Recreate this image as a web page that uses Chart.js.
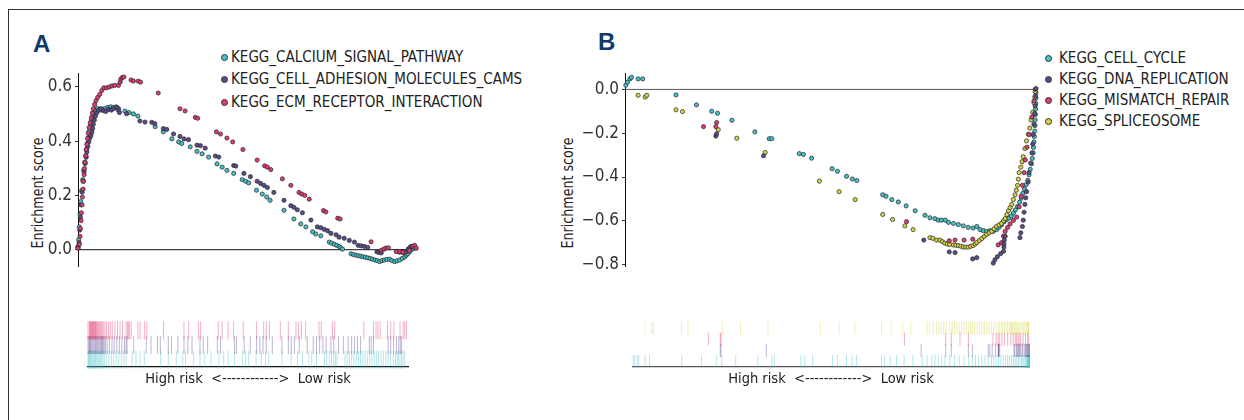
<!DOCTYPE html>
<html>
<head>
<meta charset="utf-8">
<script src="https://cdn.jsdelivr.net/npm/chart.js"></script>
<style>
  body { margin: 0; background: #fff; width: 1244px; height: 420px; position: relative; overflow: hidden;
         font-family: 'Liberation Sans Narrow', 'Arial Narrow', 'DejaVu Sans Condensed', sans-serif; color: #222; }
  .frame { position: absolute; left: 8px; top: 9px; width: 1240px; height: 415px; border-left: 1px solid #333; border-top: 1px solid #333; }
  canvas { position: absolute; }
  .panel { position: absolute; font-family: 'Liberation Sans', 'DejaVu Sans', sans-serif; font-weight: bold;
           font-size: 24px; line-height: 24px; color: #0f3a6c; }
  .ytitle { position: absolute; width: 140px; height: 20px; line-height: 20px; text-align: center; font-size: 16px;
            color: #222; transform: rotate(-90deg) scaleX(0.88); }
  .legend { position: absolute; font-size: 16.5px; color: #222; }
  .legend .row { white-space: nowrap; }
  .legend .dot { display: inline-block; width: 5px; height: 5px; border-radius: 50%; border: 0.8px solid #333; vertical-align: middle; }
  .legend .txt { display: inline-block; transform: scaleX(0.91); transform-origin: left center; }
</style>
</head>
<body>
<div class="frame"></div>
<div class="panel" style="left:33px;top:32px">A</div>
<div class="panel" style="left:598px;top:30px">B</div>
<div class="ytitle" style="left:-32.5px;top:183px">Enrichment score</div>
<div class="ytitle" style="left:497.5px;top:183px">Enrichment score</div>
<div class="legend" id="legA" style="left:220.7px;top:46.2px"></div>
<div class="legend" id="legB" style="left:1045px;top:46.8px"></div>

<canvas id="esA" width="430" height="220" style="left:0px;top:60px"></canvas>
<canvas id="rugA" width="340" height="75" style="left:78px;top:313px"></canvas>
<canvas id="esB" width="500" height="220" style="left:547px;top:60px"></canvas>
<canvas id="rugB" width="412" height="73" style="left:625px;top:315px"></canvas>

<script>
// ---- panel A : running enrichment score, [rank %, ES]
var calciumES = [[0.0,0.012],[0.2,0.037],[0.4,0.084],[0.6,0.13],[0.8,0.177],[1.1,0.218],[1.4,0.258],[1.7,0.293],[2.0,0.322],[2.3,0.346],[2.5,0.369],[2.8,0.392],[3.1,0.415],[3.4,0.439],[3.7,0.458],[4.0,0.477],[4.3,0.491],[4.7,0.505],[5.1,0.514],[5.7,0.52],[6.5,0.514],[7.3,0.517],[8.0,0.52],[8.8,0.524],[9.6,0.526],[10.4,0.524],[11.2,0.526],[11.9,0.52],[13.8,0.51],[15.0,0.505],[16.3,0.5],[17.6,0.492],[22.7,0.453],[25.1,0.434],[27.6,0.408],[29.6,0.397],[30.5,0.391],[33.0,0.379],[35.0,0.362],[36.5,0.353],[38.4,0.341],[40.9,0.316],[42.4,0.304],[43.8,0.292],[45.8,0.281],[48.3,0.258],[49.3,0.252],[50.2,0.246],[52.5,0.219],[54.2,0.205],[55.5,0.194],[56.5,0.182],[60.6,0.145],[63.5,0.113],[65.5,0.095],[67.0,0.084],[69.0,0.066],[69.9,0.058],[71.4,0.051],[73.9,0.028],[74.6,0.024],[75.4,0.02],[76.1,0.016],[76.8,0.012],[77.3,0.007],[77.8,0.002],[80.3,-0.015],[81.0,-0.018],[81.7,-0.02],[82.4,-0.022],[83.1,-0.024],[83.8,-0.026],[84.5,-0.028],[85.2,-0.03],[85.9,-0.032],[86.6,-0.035],[87.3,-0.038],[88.0,-0.04],[88.7,-0.044],[89.4,-0.04],[90.1,-0.038],[90.8,-0.036],[91.6,-0.035],[92.3,-0.04],[93.1,-0.044],[93.8,-0.041],[94.6,-0.038],[95.4,-0.032],[96.1,-0.027],[96.6,-0.02],[97.0,-0.015],[97.5,-0.008],[98.0,0],[98.5,0.004],[99.0,0.006]];
var adhesionES = [[0.0,0.008],[0.3,0.026],[0.5,0.072],[0.7,0.119],[0.9,0.165],[1.2,0.212],[1.5,0.252],[1.8,0.287],[2.1,0.317],[2.4,0.34],[2.6,0.36],[2.9,0.38],[3.2,0.398],[3.5,0.412],[3.8,0.421],[4.1,0.433],[4.3,0.447],[4.5,0.462],[4.8,0.477],[5.1,0.491],[5.5,0.503],[6.0,0.514],[6.7,0.52],[7.5,0.512],[8.2,0.509],[9.0,0.517],[9.8,0.514],[10.6,0.52],[11.4,0.524],[11.9,0.514],[12.2,0.505],[14.3,0.501],[18.2,0.474],[19.7,0.47],[21.7,0.469],[22.6,0.464],[25.1,0.446],[26.1,0.443],[28.1,0.426],[30.0,0.417],[31.2,0.408],[32.5,0.405],[35.0,0.385],[36.0,0.383],[37.4,0.374],[40.4,0.345],[41.4,0.341],[45.8,0.31],[46.4,0.308],[48.8,0.281],[50.7,0.269],[52.7,0.252],[53.7,0.244],[54.7,0.237],[55.7,0.229],[57.6,0.211],[60.6,0.182],[62.6,0.162],[63.5,0.156],[64.5,0.147],[66.0,0.136],[68.5,0.109],[70.4,0.084],[71.4,0.081],[72.4,0.075],[73.4,0.07],[74.4,0.06],[75.9,0.055],[76.8,0.046],[78.3,0.042],[79.8,0.034],[81.3,0.028],[82.4,0.016],[83.3,0.014],[84.2,0.012],[85.2,0.009],[87.9,-0.008],[88.5,-0.01],[89.2,-0.012],[93.8,-0.006],[94.6,-0.009],[95.5,-0.01],[96.4,-0.008],[97.1,0.002],[97.6,0.008],[98.0,0.012]];
var ecmES = [[0.0,0.005],[0.4,0.02],[0.6,0.049],[0.7,0.078],[0.9,0.107],[1.0,0.136],[1.2,0.165],[1.3,0.194],[1.5,0.223],[1.6,0.252],[1.8,0.276],[1.9,0.299],[2.1,0.322],[2.3,0.346],[2.4,0.369],[2.6,0.388],[2.8,0.409],[3.0,0.43],[3.3,0.45],[3.6,0.468],[3.9,0.485],[4.2,0.503],[4.5,0.519],[4.9,0.535],[5.3,0.549],[5.8,0.561],[6.4,0.572],[7.0,0.586],[7.6,0.596],[8.4,0.596],[9.2,0.599],[10.0,0.603],[10.8,0.605],[11.9,0.605],[12.4,0.617],[12.6,0.628],[13.0,0.634],[13.5,0.636],[15.6,0.625],[16.3,0.621],[17.7,0.621],[18.4,0.617],[23.6,0.577],[30.0,0.519],[31.5,0.511],[34.5,0.487],[35.2,0.484],[40.7,0.434],[41.9,0.426],[43.8,0.411],[45.5,0.397],[48.5,0.369],[52.7,0.33],[54.9,0.309],[55.7,0.304],[56.7,0.295],[60.1,0.261],[62.6,0.237],[65.0,0.211],[65.8,0.205],[66.7,0.2],[68.0,0.186],[72.2,0.144],[72.9,0.139],[76.4,0.116],[77.1,0.113],[86.2,0.029],[89.2,-0.002],[90.0,0.002],[90.6,0.006],[91.3,0.007],[93.6,-0.007],[94.6,-0.007],[95.6,-0.009],[97.5,-0.003],[98.5,0.012],[99.0,0.016],[99.5,0.006]];

// ---- panel B
var cellCycleES = [[0.2,0.019],[0.6,0.033],[1.2,0.048],[1.6,0.055],[3.2,0.048],[4.3,0.048],[12.4,-0.025],[17.4,-0.071],[21.1,-0.1],[22.5,-0.109],[26.0,-0.141],[31.6,-0.194],[35.1,-0.225],[35.7,-0.225],[42.4,-0.293],[43.4,-0.297],[45.4,-0.314],[50.4,-0.362],[51.7,-0.374],[53.9,-0.397],[55.3,-0.409],[56.4,-0.416],[62.7,-0.481],[63.5,-0.488],[64.9,-0.503],[66.5,-0.514],[68.4,-0.532],[70.6,-0.554],[73.0,-0.575],[74.2,-0.586],[75.4,-0.59],[76.2,-0.597],[77.0,-0.597],[77.9,-0.597],[78.7,-0.607],[79.9,-0.612],[81.1,-0.617],[82.3,-0.623],[83.5,-0.63],[84.7,-0.633],[85.6,-0.626],[86.4,-0.64],[87.2,-0.645],[88.0,-0.648],[88.8,-0.645],[89.6,-0.648],[90.4,-0.64],[91.0,-0.63],[91.6,-0.618],[92.2,-0.605],[92.8,-0.595],[93.4,-0.588],[94.0,-0.578],[94.5,-0.565],[95.0,-0.55],[95.5,-0.535],[96.0,-0.515],[96.4,-0.496],[96.8,-0.475],[97.2,-0.455],[97.6,-0.435],[98.0,-0.415],[98.3,-0.39],[98.6,-0.365],[98.9,-0.34],[99.1,-0.315],[99.3,-0.29],[99.4,-0.265],[99.5,-0.24],[99.6,-0.215],[99.7,-0.19],[99.75,-0.165],[99.8,-0.14],[99.85,-0.115],[99.9,-0.09],[99.95,-0.065],[100,-0.04],[100,-0.015]];
var dnaReplicationES = [[22.1,-0.213],[22.3,-0.203],[33.7,-0.303],[72.7,-0.688],[78.9,-0.742],[80.3,-0.745],[84.6,-0.774],[85.6,-0.768],[89.6,-0.793],[90.0,-0.778],[90.6,-0.764],[91.4,-0.75],[92.1,-0.739],[92.2,-0.72],[92.2,-0.706],[92.3,-0.688],[92.5,-0.67],[96.1,-0.677],[96.3,-0.655],[96.7,-0.626],[96.9,-0.597],[97.1,-0.561],[97.3,-0.525],[97.5,-0.495],[97.7,-0.467],[98.1,-0.423],[98.3,-0.38],[98.7,-0.336],[99.0,-0.29],[99.2,-0.25],[99.3,-0.206],[99.5,-0.16],[99.7,-0.11],[99.8,-0.075],[99.9,-0.03],[100,0.004]];
var mismatchES = [[19.1,-0.17],[22.1,-0.17],[22.3,-0.151],[68.5,-0.604],[78.9,-0.691],[80.3,-0.688],[82.5,-0.688],[84.6,-0.684],[90.8,-0.71],[91.6,-0.7],[92.1,-0.67],[92.5,-0.648],[93.1,-0.63],[93.7,-0.614],[94.5,-0.598],[95.3,-0.583],[95.9,-0.536],[96.4,-0.488],[96.7,-0.438],[97.1,-0.38],[97.4,-0.322],[97.8,-0.264],[98.4,-0.206],[99.0,-0.126],[99.5,-0.053],[99.8,0.0]];
var spliceosomeES = [[3.2,-0.027],[4.9,-0.035],[5.3,-0.027],[12.4,-0.093],[14.0,-0.101],[22.7,-0.184],[27.2,-0.223],[34.1,-0.288],[47.3,-0.419],[52.1,-0.467],[56.0,-0.503],[62.7,-0.571],[65.1,-0.594],[68.1,-0.623],[70.1,-0.64],[74.2,-0.677],[74.9,-0.68],[75.8,-0.688],[76.6,-0.688],[77.2,-0.695],[77.8,-0.702],[78.4,-0.706],[79.0,-0.708],[79.9,-0.71],[80.5,-0.712],[81.1,-0.713],[81.7,-0.716],[82.3,-0.72],[82.9,-0.72],[83.5,-0.72],[84.1,-0.717],[84.7,-0.713],[85.2,-0.706],[85.6,-0.699],[86.2,-0.69],[86.8,-0.681],[87.4,-0.672],[88.0,-0.662],[88.6,-0.655],[89.2,-0.648],[89.8,-0.637],[90.4,-0.626],[91.0,-0.619],[91.6,-0.612],[92.1,-0.6],[92.5,-0.59],[92.9,-0.572],[93.3,-0.554],[93.7,-0.54],[94.1,-0.525],[94.5,-0.503],[94.9,-0.481],[95.2,-0.46],[95.5,-0.438],[95.7,-0.41],[95.9,-0.38],[96.3,-0.355],[96.6,-0.33],[96.9,-0.307],[97.3,-0.27],[97.7,-0.235],[98.1,-0.205],[98.5,-0.177],[98.8,-0.14],[99.2,-0.104],[99.5,-0.061],[99.7,-0.035],[99.8,-0.01]];

var namesA = ['KEGG_CALCIUM_SIGNAL_PATHWAY', 'KEGG_CELL_ADHESION_MOLECULES_CAMS', 'KEGG_ECM_RECEPTOR_INTERACTION'];
var namesB = ['KEGG_CELL_CYCLE', 'KEGG_DNA_REPLICATION', 'KEGG_MISMATCH_REPAIR', 'KEGG_SPLICEOSOME'];
var yTicksA = [0, 0.2, 0.4, 0.6];
var yTicksB = [0, -0.2, -0.4, -0.6, -0.8];
var rugLabel = 'High risk  <------------>  Low risk';

var CYAN = '#45c1c9', PURPLE = '#5a4c8e', PINK = '#e23a72', YELLOW = '#d5d443';
var FONT = "'Liberation Sans Narrow', 'Arial Narrow', 'DejaVu Sans Condensed', sans-serif";

var setsA = [
  {name: namesA[0], data: calciumES, color: CYAN, order: 3},
  {name: namesA[1], data: adhesionES, color: PURPLE, order: 2},
  {name: namesA[2], data: ecmES, color: PINK, order: 1}
];
var setsB = [
  {name: namesB[0], data: cellCycleES, color: CYAN, order: 4},
  {name: namesB[1], data: dnaReplicationES, color: PURPLE, order: 1},
  {name: namesB[2], data: mismatchES, color: PINK, order: 2},
  {name: namesB[3], data: spliceosomeES, color: YELLOW, order: 3}
];

function toXY(arr) {
  return arr.map(function (p) { return {x: p[0], y: p[1]}; });
}

function legend(id, sets, gap, rowH) {
  var el = document.getElementById(id);
  sets.forEach(function (s) {
    var row = document.createElement('div');
    row.className = 'row';
    row.style.height = rowH + 'px';
    row.style.lineHeight = rowH + 'px';
    row.innerHTML = '<span class="dot" style="background:' + s.color + ';margin-right:' + gap + 'px"></span>' +
                    '<span class="txt">' + s.name + '</span>';
    el.appendChild(row);
  });
}

function esChart(id, sets, yMin, yMax, ticks, zeroColor, pad) {
  var ds = sets.map(function (s) {
    return {
      label: s.name, data: toXY(s.data), order: s.order, clip: false,
      backgroundColor: s.color, borderColor: 'rgba(40,40,40,0.9)', borderWidth: 0.8, pointRadius: 2.1
    };
  });
  ds.push({type: 'line', data: [{x: 0, y: 0}, {x: 100, y: 0}], borderColor: zeroColor, borderWidth: 1,
           pointRadius: 0, order: 10});
  new Chart(document.getElementById(id), {
    type: 'scatter',
    data: {datasets: ds},
    options: {
      responsive: false, animation: false, events: [],
      layout: {padding: pad},
      plugins: {legend: {display: false}, tooltip: {enabled: false}},
      scales: {
        x: {type: 'linear', min: 0, max: 100, display: false},
        y: {
          min: yMin, max: yMax,
          afterBuildTicks: function (sc) { sc.ticks = ticks.map(function (v) { return {value: v}; }); },
          afterFit: function (sc) { sc.width = 78; },
          grid: {drawOnChartArea: false, drawTicks: true, tickLength: 3, color: '#333'},
          border: {color: '#111', width: 1},
          ticks: {
            font: {family: FONT, size: 17}, color: '#333', padding: 3,
            callback: function (v) { return Number(v).toFixed(1).replace('-', '\u2212'); }
          }
        }
      }
    }
  });
}

function rugChart(id, sets, half, axisColor) {
  var n = sets.length;
  var ds = sets.map(function (s, i) {
    return {
      data: s.data.map(function (p) { return {x: p[0], y: n - 0.5 - i}; }),
      pointStyle: 'line', rotation: 90, pointRadius: half, clip: false,
      borderColor: s.color + '66', borderWidth: 1
    };
  });
  new Chart(document.getElementById(id), {
    type: 'scatter',
    data: {datasets: ds},
    options: {
      responsive: false, animation: false, events: [],
      layout: {padding: 0},
      plugins: {legend: {display: false}, tooltip: {enabled: false}},
      scales: {
        x: {
          type: 'linear', min: 0, max: 100,
          grid: {display: false}, ticks: {display: false},
          border: {display: true, color: axisColor, width: 1.3},
          title: {display: true, text: rugLabel, color: '#222', font: {family: FONT, size: 14.5}, padding: 0},
          afterFit: function (sc) { sc.height = 21; }
        },
        y: {min: 0, max: n, display: false}
      }
    }
  });
}

legend('legA', setsA, 3, 22.2);
legend('legB', setsB, 7.4, 21.1);
esChart('esA', setsA, -0.063, 0.65, yTicksA, '#111', {left: 0, top: 8, bottom: 8, right: 12});
esChart('esB', setsB, -0.81, 0.074, yTicksB, '#555', {left: 0, top: 9, bottom: 8, right: 11});
rugChart('rugA', setsA.slice().reverse(), 9, '#111');
rugChart('rugB', setsB.slice().reverse(), 6.5, '#555');
</script>
</body>
</html>
